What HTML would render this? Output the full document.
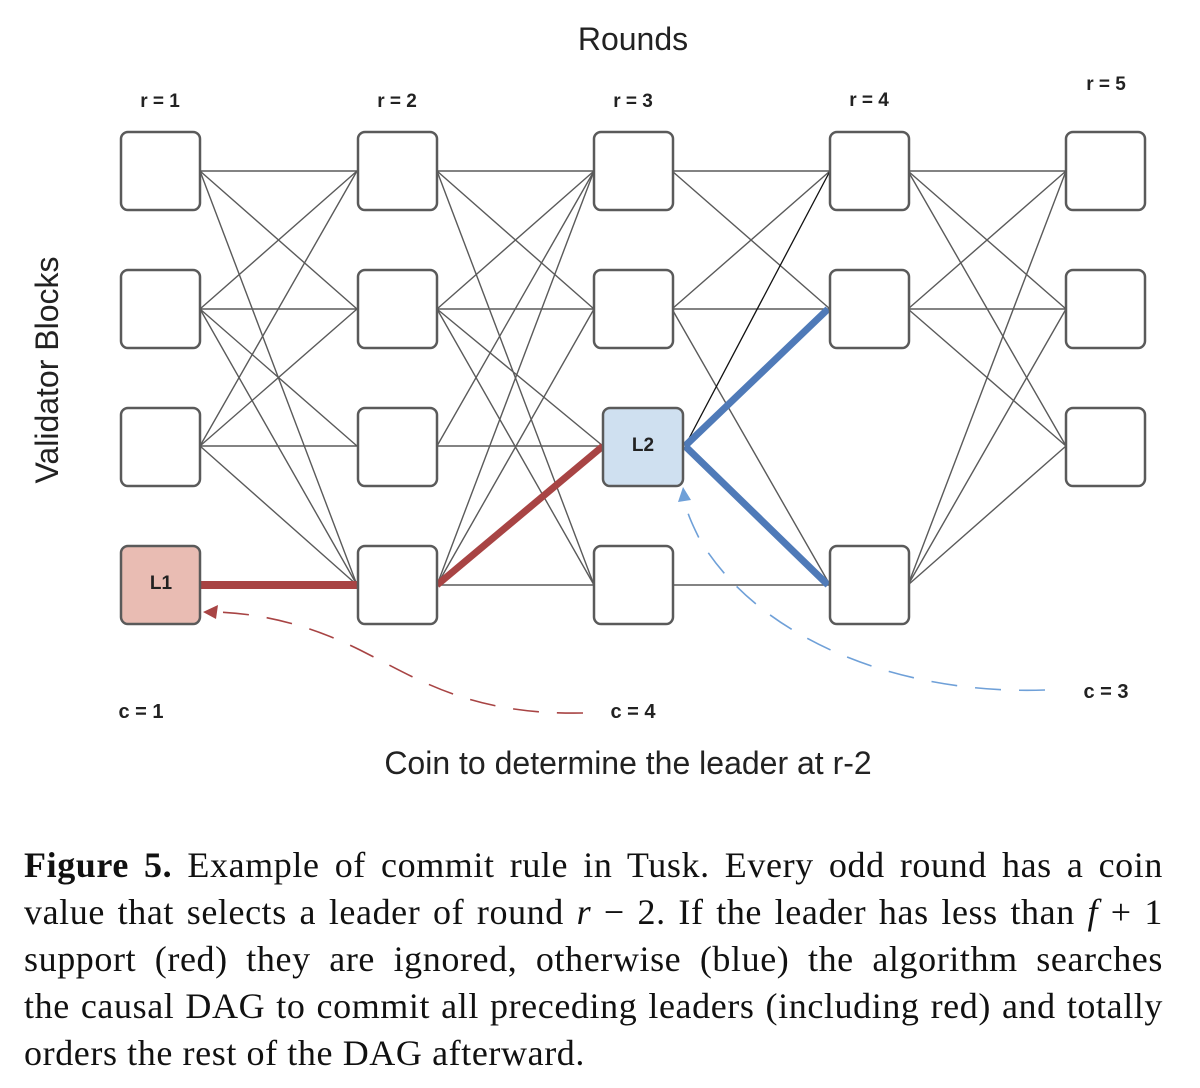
<!DOCTYPE html>
<html><head><meta charset="utf-8"><style>
body{margin:0;width:1200px;height:1088px;background:#fff;overflow:hidden;position:relative}
svg{position:absolute;left:0;top:0}
.cap{position:absolute;left:24px;width:1139px;font-family:"Liberation Serif",serif;font-size:36px;letter-spacing:0.6px;color:#111;line-height:47px}
.cap div{text-align:justify;text-align-last:justify;height:47px;white-space:nowrap}
.cap div.last{text-align-last:left}
</style></head><body>
<svg width="1200" height="840" xmlns="http://www.w3.org/2000/svg" font-family="Liberation Sans, sans-serif">
<g stroke="#5a5a5a" stroke-width="1.4" fill="none">
<line x1="200" y1="171" x2="357" y2="171"/><line x1="200" y1="309" x2="357" y2="171"/><line x1="200" y1="446" x2="357" y2="171"/>
<line x1="200" y1="171" x2="357" y2="309"/><line x1="200" y1="309" x2="357" y2="309"/><line x1="200" y1="446" x2="357" y2="309"/>
<line x1="200" y1="309" x2="357" y2="446"/><line x1="200" y1="446" x2="357" y2="446"/><line x1="200" y1="171" x2="357" y2="585"/>
<line x1="200" y1="309" x2="357" y2="585"/><line x1="200" y1="446" x2="357" y2="585"/>
<line x1="437" y1="171" x2="594" y2="171"/><line x1="437" y1="309" x2="594" y2="171"/><line x1="437" y1="446" x2="594" y2="171"/><line x1="437" y1="585" x2="594" y2="171"/>
<line x1="437" y1="171" x2="594" y2="309"/><line x1="437" y1="309" x2="594" y2="309"/><line x1="437" y1="585" x2="594" y2="309"/>
<line x1="437" y1="309" x2="603" y2="446"/><line x1="437" y1="446" x2="603" y2="446"/>
<line x1="437" y1="171" x2="594" y2="585"/><line x1="437" y1="309" x2="594" y2="585"/><line x1="437" y1="585" x2="594" y2="585"/>
<line x1="672" y1="171" x2="830" y2="171"/><line x1="672" y1="309" x2="830" y2="171"/>
<line x1="672" y1="171" x2="830" y2="309"/><line x1="672" y1="309" x2="830" y2="309"/>
<line x1="672" y1="309" x2="830" y2="585"/><line x1="672" y1="585" x2="830" y2="585"/>
<line x1="908" y1="171" x2="1066" y2="171"/><line x1="908" y1="309" x2="1066" y2="171"/><line x1="908" y1="585" x2="1066" y2="171"/>
<line x1="908" y1="171" x2="1066" y2="309"/><line x1="908" y1="309" x2="1066" y2="309"/><line x1="908" y1="585" x2="1066" y2="309"/>
<line x1="908" y1="171" x2="1066" y2="446"/><line x1="908" y1="309" x2="1066" y2="446"/><line x1="908" y1="585" x2="1066" y2="446"/>
</g>
<line x1="685" y1="446" x2="830" y2="171" stroke="#111" stroke-width="1.3"/>
<line x1="200" y1="585" x2="357" y2="585" stroke="#a84444" stroke-width="8"/>
<line x1="437" y1="585" x2="603" y2="446" stroke="#a84444" stroke-width="7"/>
<line x1="685" y1="446" x2="828" y2="309" stroke="#4f7ab8" stroke-width="7"/>
<line x1="685" y1="446" x2="828" y2="585" stroke="#4f7ab8" stroke-width="7"/>
<g stroke="#5a5a5a" stroke-width="2.5" fill="#fff">
<rect x="121" y="132" width="79" height="78" rx="7"/><rect x="121" y="270" width="79" height="78" rx="7"/><rect x="121" y="408" width="79" height="78" rx="7"/>
<rect x="121" y="546" width="79" height="78" rx="7" fill="#e9bcb3"/>
<rect x="358" y="132" width="79" height="78" rx="7"/><rect x="358" y="270" width="79" height="78" rx="7"/><rect x="358" y="408" width="79" height="78" rx="7"/><rect x="358" y="546" width="79" height="78" rx="7"/>
<rect x="594" y="132" width="79" height="78" rx="7"/><rect x="594" y="270" width="79" height="78" rx="7"/>
<rect x="603" y="408" width="80" height="78" rx="7" fill="#cfe0f0"/><rect x="594" y="546" width="79" height="78" rx="7"/>
<rect x="830" y="132" width="79" height="78" rx="7"/><rect x="830" y="270" width="79" height="78" rx="7"/><rect x="830" y="546" width="79" height="78" rx="7"/>
<rect x="1066" y="132" width="79" height="78" rx="7"/><rect x="1066" y="270" width="79" height="78" rx="7"/><rect x="1066" y="408" width="79" height="78" rx="7"/>
</g>
<path d="M583,713 C470,715 420,680 360,650 C300,620 250,613 215,612" stroke="#a84444" stroke-width="1.6" fill="none" stroke-dasharray="26,18"/>
<polygon points="203,612 218,605 216,619" fill="#a84444"/>
<path d="M1045,690 C900,695 760,640 700,540 C690,520 686,510 685,500" stroke="#6fa0d8" stroke-width="1.6" fill="none" stroke-dasharray="26,18"/>
<polygon points="683,487 678,502 691,500" fill="#6fa0d8"/>
<g fill="#222" font-size="19" font-weight="bold" text-anchor="middle">
<text x="160" y="107">r = 1</text><text x="397" y="107">r = 2</text><text x="633" y="107">r = 3</text><text x="869" y="106">r = 4</text><text x="1106" y="90">r = 5</text>
<text x="141" y="718" font-size="20">c = 1</text><text x="633" y="718" font-size="20">c = 4</text><text x="1106" y="698" font-size="20">c = 3</text>
<text x="161" y="589">L1</text><text x="643" y="451">L2</text>
</g>
<text x="633" y="50" font-size="32" fill="#222" text-anchor="middle">Rounds</text>
<text x="628" y="774" font-size="32" fill="#222" text-anchor="middle">Coin to determine the leader at r-2</text>
<text transform="translate(58,370) rotate(-90)" font-size="32" fill="#222" text-anchor="middle">Validator Blocks</text>
</svg>
<div class="cap" style="top:842px">
<div><b>Figure 5.</b> Example of commit rule in Tusk. Every odd round has a coin</div>
<div>value that selects a leader of round <i>r</i> − 2. If the leader has less than <i>f</i> + 1</div>
<div>support (red) they are ignored, otherwise (blue) the algorithm searches</div>
<div>the causal DAG to commit all preceding leaders (including red) and totally</div>
<div class="last">orders the rest of the DAG afterward.</div>
</div>
</body></html>
